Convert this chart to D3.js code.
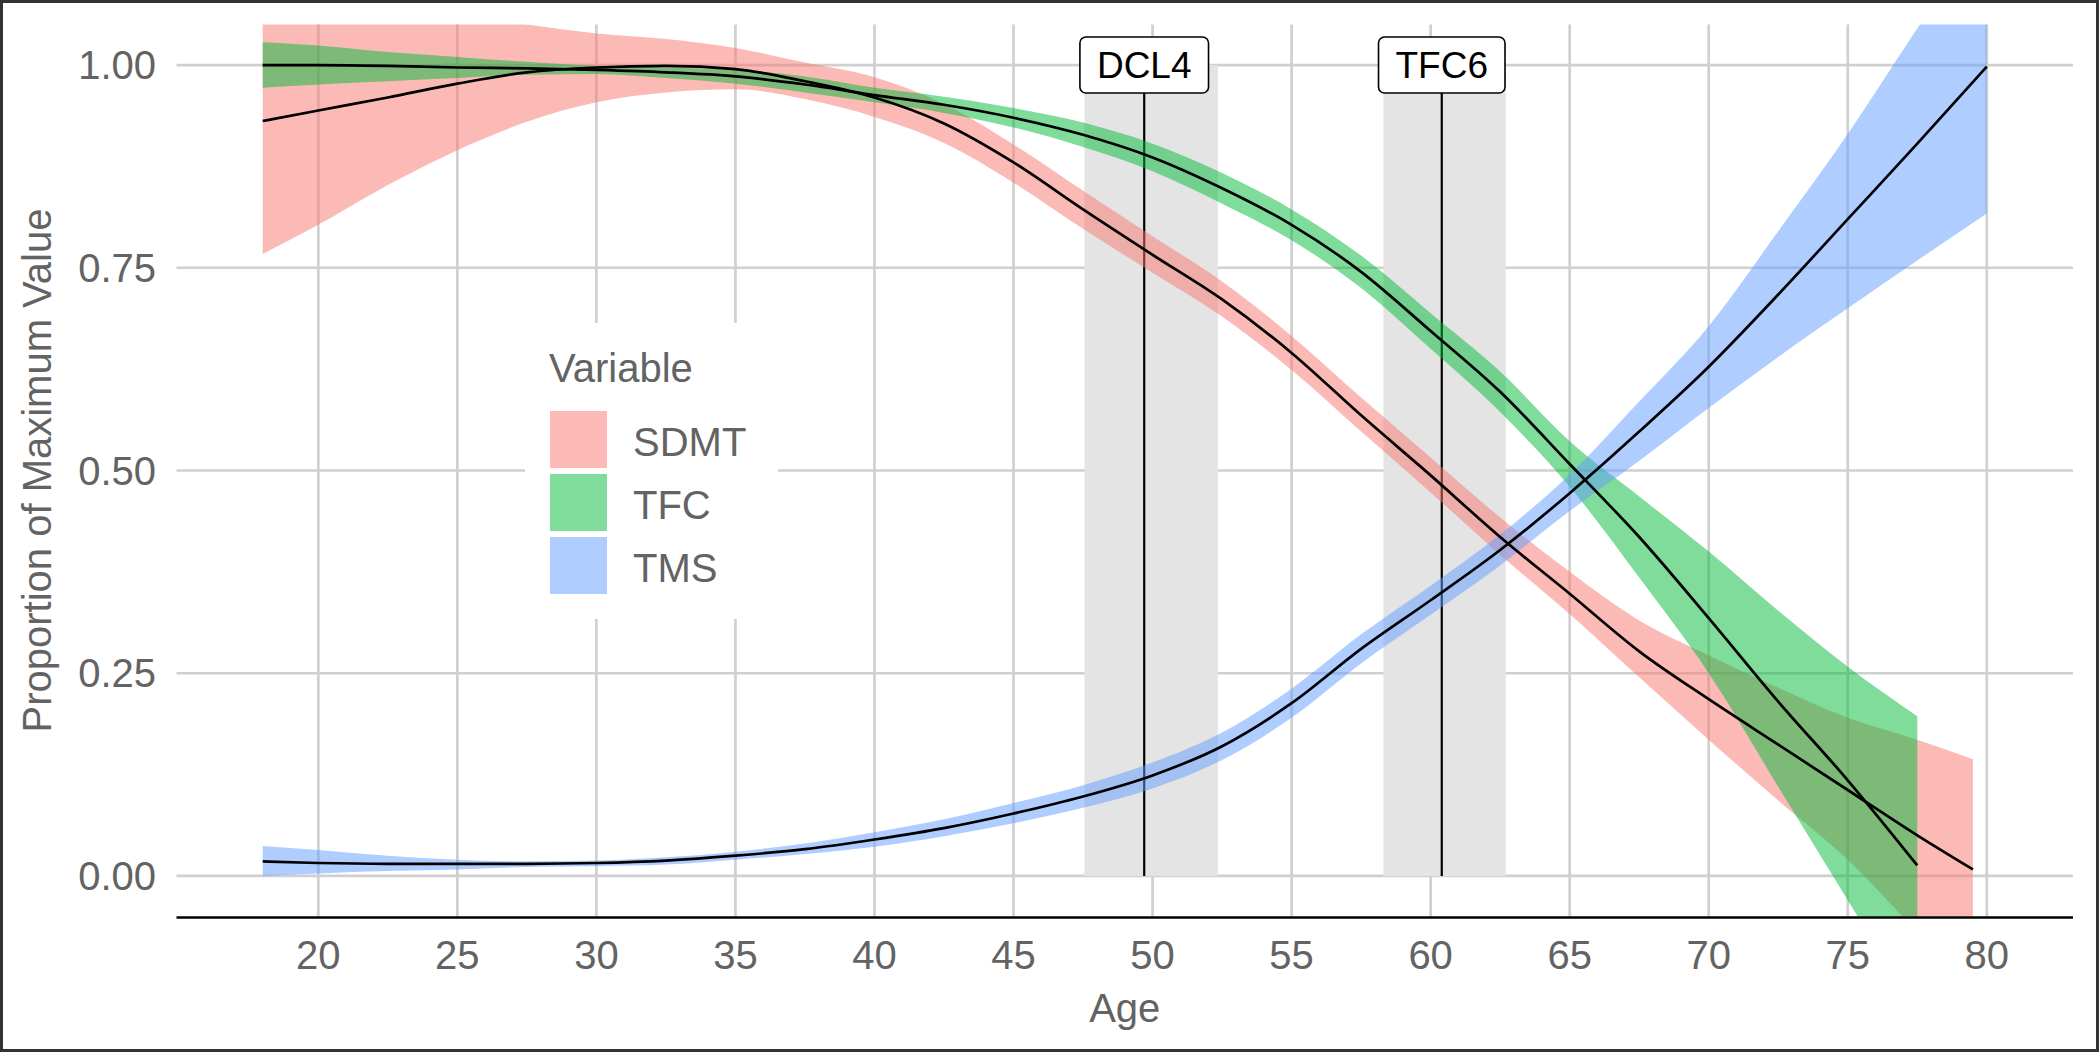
<!DOCTYPE html>
<meta charset="utf-8">
<script src="https://d3js.org/d3.v7.min.js"></script>
<style>
  body { margin: 0; background: #fff; }
  text { font-family: "Liberation Sans", Arial, sans-serif; }
</style>
<body>
<script>

// ages at which the fitted curves were read
var ages = [18, 20, 22.5, 25, 27.5, 30, 32.5, 35, 37.5, 40, 42.5, 45, 47.5, 50,
            52.5, 55, 57.5, 60, 62.5, 65, 67.5, 70, 72.5, 75, 77.5];

var sdmtAges  = ages.concat([79.5]);
var sdmtFit   = [0.931, 0.944, 0.960, 0.977, 0.991, 0.997, 0.999, 0.995, 0.980, 0.960, 0.928, 0.880, 0.822, 0.766,
                 0.711, 0.645, 0.568, 0.494, 0.418, 0.348, 0.277, 0.218, 0.162, 0.106, 0.050, 0.008];
var sdmtLower = [0.767, 0.803, 0.852, 0.895, 0.930, 0.954, 0.966, 0.970, 0.958, 0.936, 0.904, 0.855, 0.798, 0.744,
                 0.690, 0.624, 0.548, 0.473, 0.396, 0.323, 0.245, 0.168, 0.093, 0.020, -0.068, -0.130];
var sdmtUpper = [1.120, 1.100, 1.080, 1.065, 1.050, 1.039, 1.032, 1.021, 1.003, 0.985, 0.952, 0.902, 0.845, 0.789,
                 0.733, 0.666, 0.590, 0.516, 0.442, 0.375, 0.315, 0.272, 0.232, 0.195, 0.168, 0.144];

var tfcAges  = ages;
var tfcFit   = [1.000, 1.000, 0.999, 0.997, 0.996, 0.994, 0.991, 0.986, 0.976, 0.963, 0.951, 0.935, 0.914, 0.886,
                0.848, 0.803, 0.745, 0.672, 0.597, 0.508, 0.418, 0.318, 0.215, 0.118, 0.013];
var tfcLower = [0.972, 0.976, 0.980, 0.984, 0.988, 0.989, 0.984, 0.977, 0.966, 0.954, 0.941, 0.923, 0.899, 0.869,
                0.829, 0.784, 0.725, 0.650, 0.572, 0.480, 0.368, 0.250, 0.110, -0.030, -0.170];
var tfcUpper = [1.028, 1.024, 1.016, 1.010, 1.004, 0.999, 0.997, 0.994, 0.986, 0.972, 0.961, 0.947, 0.929, 0.903,
                0.867, 0.822, 0.765, 0.694, 0.622, 0.536, 0.468, 0.400, 0.327, 0.258, 0.197];

var tmsAges  = ages.concat([80]);
var tmsFit   = [0.018, 0.016, 0.015, 0.015, 0.015, 0.016, 0.019, 0.025, 0.033, 0.045, 0.059, 0.077, 0.098, 0.124,
                0.160, 0.213, 0.280, 0.340, 0.402, 0.472, 0.548, 0.628, 0.717, 0.810, 0.903, 0.998];
var tmsLower = [0.000, 0.003, 0.006, 0.008, 0.011, 0.012, 0.014, 0.020, 0.027, 0.036, 0.049, 0.065, 0.084, 0.108,
                0.143, 0.195, 0.262, 0.322, 0.383, 0.450, 0.512, 0.577, 0.640, 0.700, 0.759, 0.817];
var tmsUpper = [0.037, 0.032, 0.025, 0.020, 0.018, 0.019, 0.023, 0.030, 0.040, 0.054, 0.070, 0.090, 0.112, 0.140,
                0.177, 0.231, 0.298, 0.358, 0.421, 0.495, 0.585, 0.678, 0.795, 0.915, 1.045, 1.170];

// milestones: label, age, band start, band end
var markLabels = ["DCL4", "TFC6"];
var markAge    = [49.7, 60.4];
var markLow    = [47.55, 58.3];
var markHigh   = [52.35, 62.7];

var xTicks = [20, 25, 30, 35, 40, 45, 50, 55, 60, 65, 70, 75, 80];
var yTicks = [0, 0.25, 0.5, 0.75, 1];

var seriesNames  = ["SDMT", "TFC", "TMS"];
var seriesColors = ["#F8766D", "#00BA38", "#619CFF"];

function zipSeries(a, f, lo, hi) {
  return a.map(function(d, i) { return {age: d, fit: f[i], lo: lo[i], hi: hi[i]}; });
}
var series = [
  zipSeries(sdmtAges, sdmtFit, sdmtLower, sdmtUpper),
  zipSeries(tfcAges, tfcFit, tfcLower, tfcUpper),
  zipSeries(tmsAges, tmsFit, tmsLower, tmsUpper)
];

var W = 2099, H = 1052;
var panel = {left: 176.5, right: 2073, top: 24.5, bottom: 916.5};
var textGrey = "#636363";

var x = d3.scaleLinear().domain([14.9, 83.1]).range([panel.left, panel.right]);
var y = d3.scaleLinear().domain([-0.05, 1.05]).range([panel.bottom, panel.top]);

var svg = d3.select("body").append("svg")
    .attr("width", W)
    .attr("height", H);

svg.append("rect").attr("width", W).attr("height", H).attr("fill", "#fff");

svg.append("defs").append("clipPath").attr("id", "panel")
  .append("rect")
    .attr("x", panel.left).attr("y", panel.top)
    .attr("width", panel.right - panel.left).attr("height", panel.bottom - panel.top);

// grid
var grid = svg.append("g").attr("stroke", "#d0d0d0").attr("stroke-width", 2.7);
grid.selectAll(".gx").data(xTicks).enter().append("line")
    .attr("x1", d => x(d)).attr("x2", d => x(d))
    .attr("y1", panel.top).attr("y2", panel.bottom);
grid.selectAll(".gy").data(yTicks).enter().append("line")
    .attr("x1", panel.left).attr("x2", panel.right)
    .attr("y1", d => y(d)).attr("y2", d => y(d));

var plot = svg.append("g").attr("clip-path", "url(#panel)");

// milestone bands
plot.selectAll(".band").data(markAge).enter().append("rect")
    .attr("x", (d, i) => x(markLow[i]))
    .attr("width", (d, i) => x(markHigh[i]) - x(markLow[i]))
    .attr("y", y(1))
    .attr("height", y(0) - y(1))
    .attr("fill", "#e4e4e4");

// milestone lines
plot.selectAll(".vline").data(markAge).enter().append("line")
    .attr("x1", d => x(d)).attr("x2", d => x(d))
    .attr("y1", y(0)).attr("y2", y(1))
    .attr("stroke", "#000").attr("stroke-width", 2.2);

// ribbons
var area = d3.area()
    .x(d => x(d.age))
    .y0(d => y(d.lo))
    .y1(d => y(d.hi))
    .curve(d3.curveMonotoneX);

plot.selectAll(".ribbon").data(series).enter().append("path")
    .attr("d", area)
    .attr("fill", (d, i) => seriesColors[i])
    .attr("fill-opacity", 0.5);

// fitted lines
var line = d3.line()
    .x(d => x(d.age))
    .y(d => y(d.fit))
    .curve(d3.curveMonotoneX);

plot.selectAll(".fit").data(series).enter().append("path")
    .attr("d", line)
    .attr("fill", "none")
    .attr("stroke", "#000")
    .attr("stroke-width", 2.7);

// milestone labels
var labs = svg.selectAll(".lab").data(markLabels).enter().append("g")
    .attr("transform", (d, i) => "translate(" + x(markAge[i]) + "," + y(1) + ")");
labs.append("rect").attr("class", "box");
labs.append("text")
    .attr("text-anchor", "middle")
    .attr("y", 13)
    .style("font-size", "37px")
    .attr("fill", "#000")
    .text(d => d);
labs.each(function() {
  var g = d3.select(this);
  var w = g.select("text").node().getComputedTextLength() + 34;
  g.select("rect")
    .attr("x", -w / 2).attr("y", -28)
    .attr("width", w).attr("height", 56)
    .attr("rx", 6)
    .attr("fill", "#fff")
    .attr("stroke", "#000")
    .attr("stroke-width", 1.6);
});

// x axis
svg.append("line")
    .attr("x1", panel.left).attr("x2", panel.right)
    .attr("y1", 917.5).attr("y2", 917.5)
    .attr("stroke", "#000").attr("stroke-width", 2.5);

svg.selectAll(".xt").data(xTicks).enter().append("text")
    .attr("x", d => x(d))
    .attr("y", 969)
    .attr("text-anchor", "middle")
    .style("font-size", "40px")
    .attr("fill", textGrey)
    .text(d => d);

svg.selectAll(".yt").data(yTicks).enter().append("text")
    .attr("x", 156)
    .attr("y", d => y(d) + 14)
    .attr("text-anchor", "end")
    .style("font-size", "40px")
    .attr("fill", textGrey)
    .text(d => d3.format(".2f")(d));

svg.append("text")
    .attr("x", (panel.left + panel.right) / 2)
    .attr("y", 1022)
    .attr("text-anchor", "middle")
    .style("font-size", "40px")
    .attr("fill", textGrey)
    .text("Age");

svg.append("text")
    .attr("transform", "translate(51," + ((panel.top + panel.bottom) / 2) + ") rotate(-90)")
    .attr("text-anchor", "middle")
    .style("font-size", "40px")
    .attr("fill", textGrey)
    .text("Proportion of Maximum Value");

// legend
var legend = svg.append("g");
legend.append("rect")
    .attr("x", 525).attr("y", 323)
    .attr("width", 253).attr("height", 296)
    .attr("fill", "#fff");
legend.append("text")
    .attr("x", 549).attr("y", 382)
    .style("font-size", "40px")
    .attr("fill", textGrey)
    .text("Variable");
var items = legend.selectAll(".item").data(seriesNames).enter().append("g")
    .attr("transform", (d, i) => "translate(550," + (411 + i * 63) + ")");
items.append("rect")
    .attr("width", 57).attr("height", 57)
    .attr("fill", (d, i) => seriesColors[i])
    .attr("fill-opacity", 0.5);
items.append("text")
    .attr("x", 83).attr("y", 45)
    .style("font-size", "40px")
    .attr("fill", textGrey)
    .text(d => d);

// frame
svg.append("rect")
    .attr("x", 1.5).attr("y", 1.5)
    .attr("width", W - 3).attr("height", H - 3)
    .attr("fill", "none")
    .attr("stroke", "#333")
    .attr("stroke-width", 3);
</script>
</body>
